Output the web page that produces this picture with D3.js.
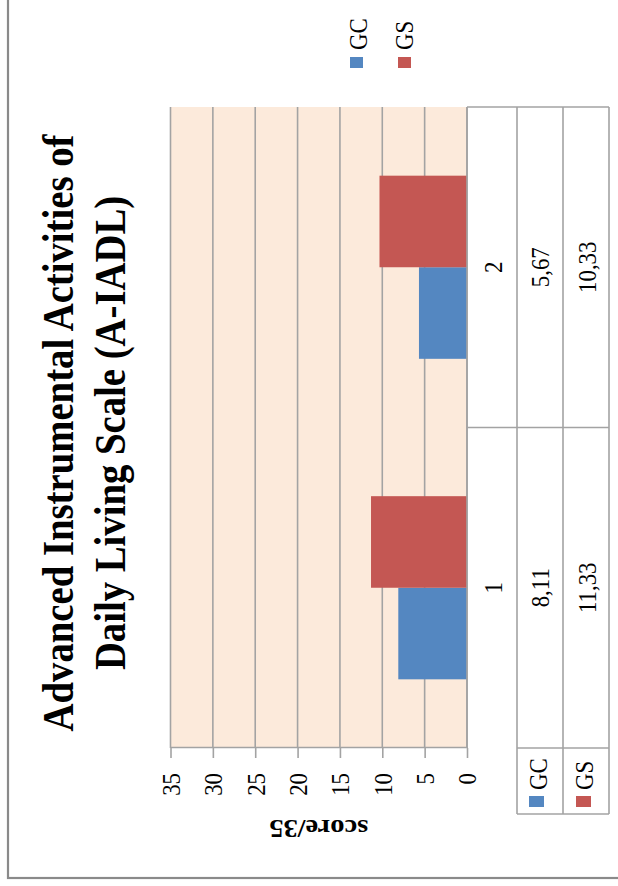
<!DOCTYPE html>
<html>
<head>
<meta charset="utf-8">
<script src="https://cdn.jsdelivr.net/npm/d3@7"></script>
<style>
  html, body { margin: 0; padding: 0; background: #fff; }
  svg { display: block; }
  text { font-family: "Liberation Serif", "Times New Roman", serif; fill: #000; }
</style>
</head>
<body>
<svg id="chart" width="618" height="886"></svg>
<script>
// ---- data ----
const categories = ["1", "2"];
const seriesNames = ["GC", "GS"];
const gcValues = [8.11, 5.67];
const gsValues = [11.33, 10.33];
const valueTicks = [0, 5, 10, 15, 20, 25, 30, 35];
const titleLines = ["Advanced Instrumental Activities of", "Daily Living Scale (A-IADL)"];
const axisTitle = "score/35";

const seriesColors = { GC: "#5487C1", GS: "#C45753" };
const gridColor = "#A3A3A3";
const SX = 0.88; // horizontal squeeze of all lettering

const W = 618, H = 886;
const svg = d3.select("#chart");
svg.append("rect").attr("width", W).attr("height", H).attr("fill", "#fff");

// The chart is laid out in its own frame (u across, v down) and then turned
// a quarter turn counter-clockwise onto the page.
const g = svg.append("g").attr("transform", `translate(0,${H}) rotate(-90)`);

const plot = { left: 138, right: 779, top: 170.5, bottom: 467 };
const table = { rowLabelLeft: 72, catRow: 517, gcRow: 563, gsRow: 609 };

const x0 = d3.scaleBand().domain(categories).range([plot.left, plot.right]);
const x1 = d3.scaleBand().domain(seriesNames).range([0, x0.step()]).paddingOuter(0.75);
const y = d3.scaleLinear().domain([0, 35]).range([plot.bottom, plot.top]);

const rows = categories.map((c, i) => ({ cat: c, GC: gcValues[i], GS: gsValues[i] }));
const fmt = v => d3.format(".2f")(v).replace(".", ",");

function label(parent, u, v, str, size, anchor, opts = {}) {
  return parent.append("text")
    .attr("transform", `translate(${u},${v}) scale(${SX},1)` + (opts.rotate ? ` rotate(${opts.rotate})` : ""))
    .attr("text-anchor", anchor)
    .attr("font-size", size)
    .attr("font-weight", opts.bold ? "bold" : null)
    .text(str);
}

// plot background
g.append("rect")
  .attr("x", plot.left).attr("y", plot.top)
  .attr("width", plot.right - plot.left).attr("height", plot.bottom - plot.top)
  .attr("fill", "#FCEADB");

// gridlines
g.append("g").selectAll("line").data(valueTicks).join("line")
  .attr("x1", plot.left).attr("x2", plot.right)
  .attr("y1", d => y(d)).attr("y2", d => y(d))
  .attr("stroke", gridColor).attr("stroke-width", 1.6);

// bars
g.append("g").selectAll("g").data(rows).join("g")
  .attr("transform", d => `translate(${x0(d.cat)},0)`)
  .selectAll("rect")
  .data(d => seriesNames.map(s => ({ s, v: d[s] })))
  .join("rect")
  .attr("x", d => x1(d.s))
  .attr("width", x1.bandwidth())
  .attr("y", d => y(d.v))
  .attr("height", d => y(0) - y(d.v))
  .attr("fill", d => seriesColors[d.s]);

// value axis
const axis = g.append("g")
  .attr("transform", `translate(${plot.left},0)`)
  .call(d3.axisLeft(y).tickValues(valueTicks).tickSize(10).tickSizeOuter(0));
axis.select(".domain").attr("stroke", gridColor).attr("stroke-width", 1.6);
axis.selectAll(".tick line").attr("stroke", gridColor).attr("stroke-width", 1.6);
axis.selectAll(".tick text")
  .attr("x", -25 / SX)
  .attr("dy", "0.34em")
  .attr("transform", `scale(${SX},1)`)
  .attr("font-size", 26)
  .attr("font-family", "Liberation Serif")
  .attr("fill", "#000");

// axis title
label(g, 66, (plot.top + plot.bottom) / 2, axisTitle, 28.5, "middle", { bold: true, rotate: -90 });

// data table grid
const tableLines = g.append("g").attr("stroke", gridColor).attr("stroke-width", 1.6).attr("fill", "none");
[table.catRow, table.gcRow, table.gsRow].forEach(v => {
  tableLines.append("line").attr("x1", v === table.catRow ? table.rowLabelLeft : table.rowLabelLeft)
    .attr("x2", plot.right).attr("y1", v).attr("y2", v);
});
tableLines.append("line").attr("x1", plot.left).attr("x2", plot.right).attr("y1", plot.bottom).attr("y2", plot.bottom);
tableLines.append("line").attr("x1", table.rowLabelLeft).attr("x2", table.rowLabelLeft).attr("y1", table.catRow).attr("y2", table.gsRow);
tableLines.append("line").attr("x1", plot.left).attr("x2", plot.left).attr("y1", table.catRow).attr("y2", table.gsRow);
categories.forEach(c => {
  const edge = x0(c) + x0.step();
  tableLines.append("line").attr("x1", edge).attr("x2", edge).attr("y1", plot.bottom).attr("y2", table.gsRow);
});

// data table text
rows.forEach(d => {
  const cx = x0(d.cat) + x0.step() / 2;
  label(g, cx, 502, d.cat, 26, "middle");
  label(g, cx, 549, fmt(d.GC), 26, "middle");
  label(g, cx, 596, fmt(d.GS), 26, "middle");
});

// data table row labels with keys
const rowBase = { GC: 547, GS: 593 };
const rowKeyTop = { GC: 529, GS: 576 };
seriesNames.forEach(s => {
  g.append("rect").attr("x", 79).attr("y", rowKeyTop[s]).attr("width", 11).attr("height", 15)
    .attr("fill", seriesColors[s]);
  label(g, 96, rowBase[s], s, 26, "start");
});

// legend
const legendBase = { GC: 367, GS: 413 };
const legendKeyTop = { GC: 350, GS: 398 };
seriesNames.forEach(s => {
  g.append("rect").attr("x", 818).attr("y", legendKeyTop[s]).attr("width", 11).attr("height", 13)
    .attr("fill", seriesColors[s]);
  label(g, 836, legendBase[s], s, 26, "start");
});

// title
label(g, 453, 73, titleLines[0], 44, "middle", { bold: true });
label(g, 453, 125, titleLines[1], 44, "middle", { bold: true });

// outer frame
svg.append("rect")
  .attr("x", 8).attr("y", -10).attr("width", W + 10).attr("height", 888)
  .attr("fill", "none").attr("stroke", "#8A8A8A").attr("stroke-width", 2.2);
</script>
</body>
</html>
